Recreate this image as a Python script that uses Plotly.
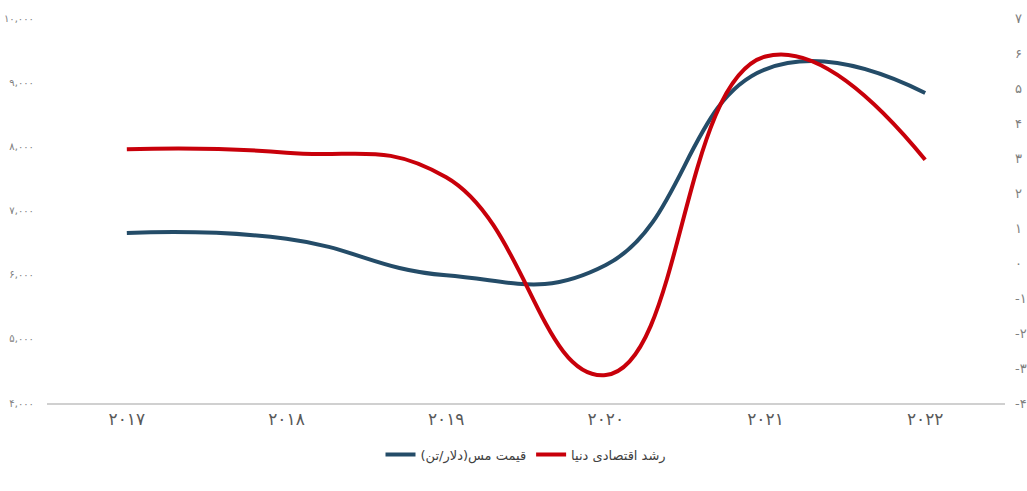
import plotly.graph_objects as go

years = ["۲۰۱۷", "۲۰۱۸", "۲۰۱۹", "۲۰۲۰", "۲۰۲۱", "۲۰۲۲"]
copper_price = [6650, 6560, 5990, 6150, 9200, 8830]
world_growth = [3.25, 3.15, 2.45, -3.2, 5.9, 2.95]

left_ticks = [4000, 5000, 6000, 7000, 8000, 9000, 10000]
left_labels = ["۴,۰۰۰", "۵,۰۰۰", "۶,۰۰۰", "۷,۰۰۰", "۸,۰۰۰", "۹,۰۰۰", "۱۰,۰۰۰"]
right_ticks = [-4, -3, -2, -1, 0, 1, 2, 3, 4, 5, 6, 7]
right_labels = ["-۴", "-۳", "-۲", "-۱", "۰", "۱", "۲", "۳", "۴", "۵", "۶", "۷"]

xpos = list(range(len(years)))

fig = go.Figure()
fig.add_trace(go.Scatter(
    x=xpos, y=copper_price, name="قیمت مس(دلار/تن)", mode="lines",
    line=dict(color="#244c68", width=4, shape="spline", smoothing=1.3),
    yaxis="y"))
fig.add_trace(go.Scatter(
    x=xpos, y=world_growth, name="رشد اقتصادی دنیا", mode="lines",
    line=dict(color="#c8000a", width=4, shape="spline", smoothing=1.3),
    yaxis="y2"))

fig.update_layout(
    width=1027, height=491,
    margin=dict(l=47, r=22, t=18, b=88, autoexpand=False),
    paper_bgcolor="white", plot_bgcolor="white",
    font=dict(family="DejaVu Sans, Noto Sans", color="#595959"),
    showlegend=True,
    legend=dict(orientation="h", x=0.5, xanchor="center", y=-0.095, yanchor="top",
                font=dict(size=13, color="#404040"), traceorder="normal"),
    xaxis=dict(range=[-0.5, 5.5], tickvals=xpos, ticktext=years,
               showgrid=False, zeroline=False, showline=True, automargin=False,
               linecolor="#d0d0d0", linewidth=2, ticks="",
               tickfont=dict(size=17, color="#595959")),
    yaxis=dict(range=[4000, 10000], tickvals=left_ticks, ticktext=left_labels,
               showgrid=False, zeroline=False, showline=False, ticks="",
               automargin=False, ticklabelstandoff=12,
               tickfont=dict(size=10, color="#808080")),
    yaxis2=dict(range=[-4, 7], tickvals=right_ticks, ticktext=right_labels,
                overlaying="y", side="right", automargin=False,
                showgrid=False, zeroline=False, showline=False, ticks="",
                ticklabelstandoff=9,
                tickfont=dict(size=13, color="#808080")),
)

fig.write_html("out.html")
